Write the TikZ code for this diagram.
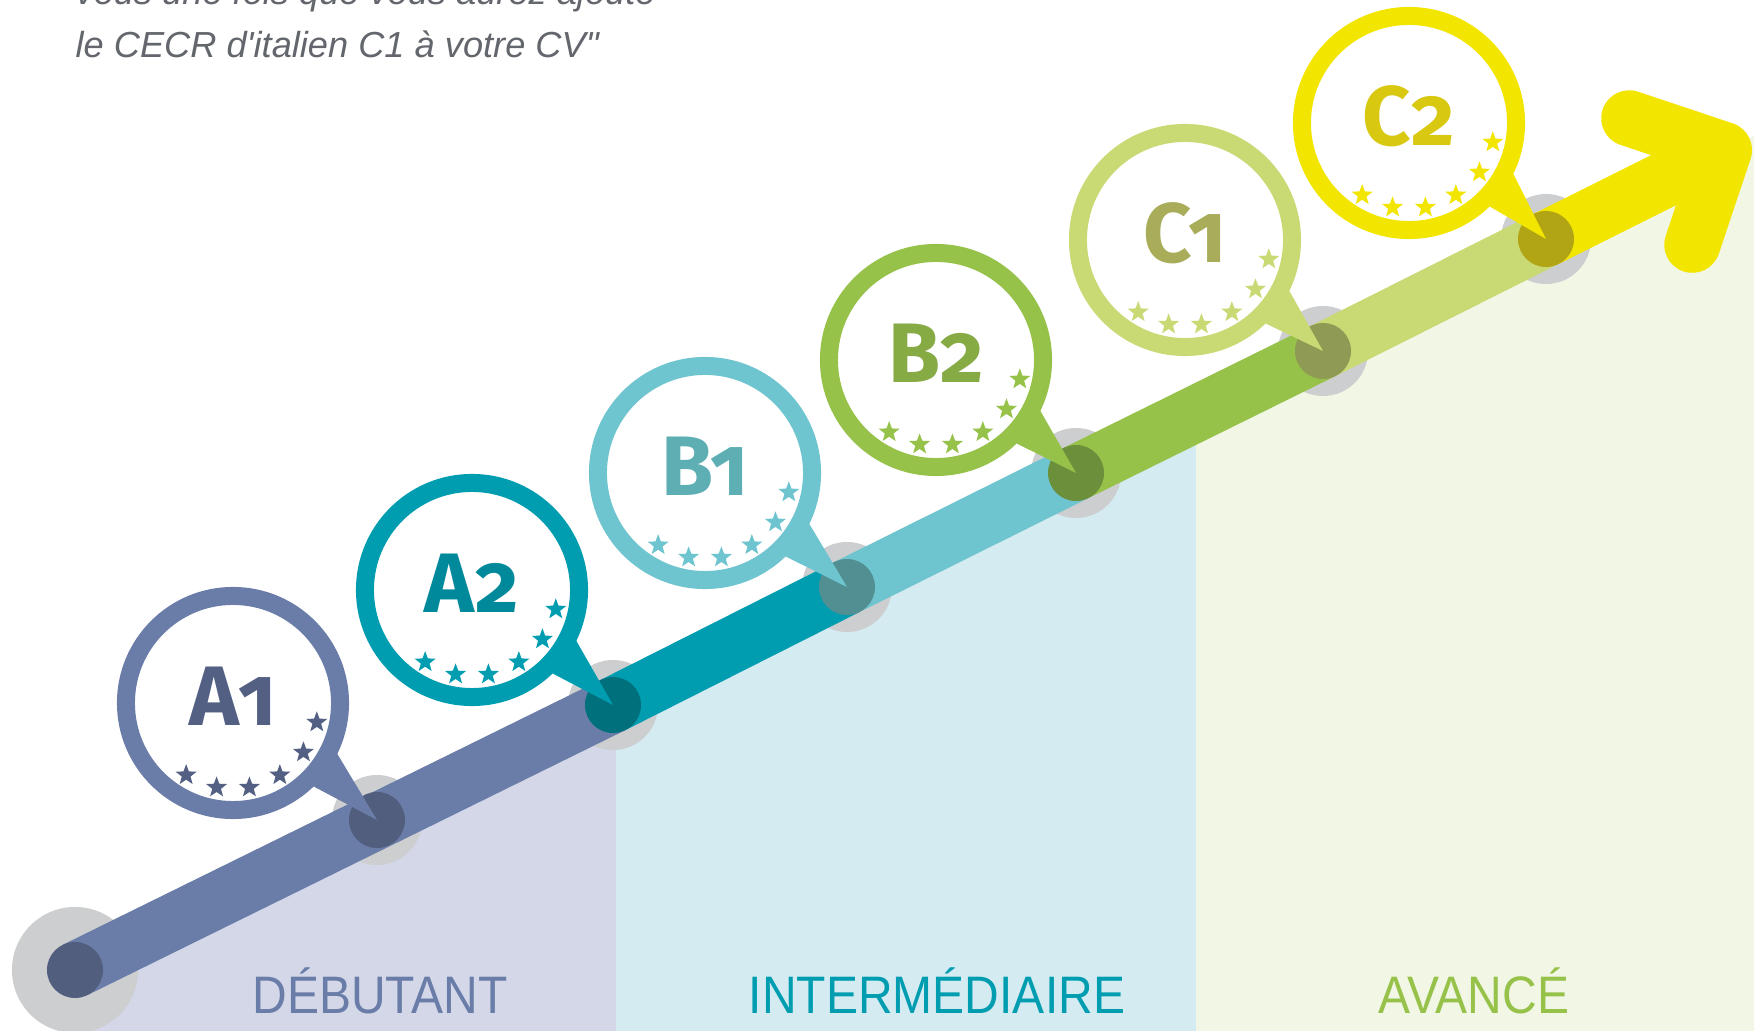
\documentclass[tikz,border=0pt]{standalone}
\usepackage{fontspec}
\usepackage{tikz}
\usetikzlibrary{shapes.geometric}
\newfontfamily\levelfont[Numbers=OldStyle]{Fira Sans}
\newfontfamily\stagefont[FakeStretch=0.91]{Liberation Sans}
\newfontfamily\quotefont{Liberation Sans}
\definecolor{halogray}{HTML}{CDCED0}
\definecolor{pa}{HTML}{D3D7E8}
\definecolor{pb}{HTML}{D5EBF2}
\definecolor{pc}{HTML}{F2F6E5}
\definecolor{quotegray}{HTML}{63666C}
\definecolor{c1}{HTML}{6A7DA8}
\definecolor{c2}{HTML}{009DB1}
\definecolor{c3}{HTML}{6FC5CF}
\definecolor{c4}{HTML}{97C24A}
\definecolor{c5}{HTML}{C9DA75}
\definecolor{c6}{HTML}{F2E500}
\definecolor{d1}{HTML}{525E7E}
\definecolor{d2}{HTML}{00707D}
\definecolor{d3}{HTML}{528F92}
\definecolor{d4}{HTML}{6B8F3A}
\definecolor{d5}{HTML}{8F9A54}
\definecolor{d6}{HTML}{B2A515}
\definecolor{t1}{HTML}{536083}
\definecolor{t2}{HTML}{00899B}
\definecolor{t3}{HTML}{5DAFB4}
\definecolor{t4}{HTML}{86AA44}
\definecolor{t5}{HTML}{A9AD5A}
\definecolor{t6}{HTML}{D8C810}

\begin{document}
\begin{tikzpicture}[x=0.01cm, y=0.01cm,
    halo/.style={circle, fill=halogray, minimum size=0.9cm, inner sep=0},
    knot/.style={circle, minimum size=0.56cm, inner sep=0},
    band/.style={line width=0.56cm},
    bubble/.style={circle, fill=white, line width=0.18cm, minimum size=2.14cm, inner sep=0},
    lvltext/.style={anchor=base, yshift=-0.22cm, font=\levelfont\bfseries\fontsize{24}{28}\selectfont},
    star5/.style={star, star points=5, star point ratio=2.4, minimum size=0.22cm, inner sep=0},
    stage/.style={anchor=base, font=\stagefont\fontsize{15}{17}\selectfont}]
        \useasboundingbox (0,0) rectangle (1754,-1031);
        \clip (0,0) rectangle (1754,-1031);

        % Panels
        \fill[pa] (75,-970) -- (616,-701) -- (616,-1031) -- (75,-1031) -- cycle;
        \fill[pb] (616,-701) -- (1196,-413) -- (1196,-1031) -- (616,-1031) -- cycle;
        \fill[pc] (1196,-413) -- (1754,-136) -- (1754,-1031) -- (1196,-1031) -- cycle;
        \node[stage, text=c1] (deb) at (380,-1013) {DÉBUTANT};
        \node[stage, text=c2] (int) at (937,-1013) {INTERMÉDIAIRE};
        \node[stage, text=c4] (ava) at (1474,-1013) {AVANCÉ};

        % Stations
        \node[halo, minimum size=1.26cm] (0) at (75,-970) {};
        \node[halo] (1) at (377,-820) {};
        \node[halo] (2) at (613,-705) {};
        \node[halo] (3) at (847,-587) {};
        \node[halo] (4) at (1076,-473) {};
        \node[halo] (5) at (1323,-351) {};
        \node[halo] (6) at (1546,-239) {};
        \coordinate (tip) at (1724,-150);

        % Path
        \draw[band, c1] (0.center) -- (2.center);
        \draw[band, c2] (2.center) -- (3.center);
        \draw[band, c3] (3.center) -- (4.center);
        \draw[band, c4] (4.center) -- (5.center);
        \draw[band, c5] (5.center) -- (6.center);
        \draw[band, c6] (6.center) -- (tip);
        \draw[band, c6, line cap=round, line join=round] ([shift={(161.5:100)}]tip) -- (tip) -- ([shift={(251.5:100)}]tip);

        % Knots
        \node[knot, fill=d1] (k0) at (0) {};
        \node[knot, fill=d1] (k1) at (1) {};
        \node[knot, fill=d2] (k2) at (2) {};
        \node[knot, fill=d3] (k3) at (3) {};
        \node[knot, fill=d4] (k4) at (4) {};
        \node[knot, fill=d5] (k5) at (5) {};
        \node[knot, fill=d6] (k6) at (6) {};

        % Bubbles
        \node[bubble, draw=c1] (a1) at (233,-703) {};
        \fill[c1] (a1.-26) -- (k1.center) -- (a1.-46) -- cycle;
        \node[lvltext, text=t1] at (a1) {A1};
        \foreach \a in {-123,-101,-79,-57,-35,-13}
            \node[star5, fill=t1] at ([shift={(\a:86)}]a1) {};

        \node[bubble, draw=c2] (a2) at (472,-590) {};
        \fill[c2] (a2.-26) -- (k2.center) -- (a2.-46) -- cycle;
        \node[lvltext, text=t2] at (a2) {A2};
        \foreach \a in {-123,-101,-79,-57,-35,-13}
            \node[star5, fill=c2] at ([shift={(\a:86)}]a2) {};

        \node[bubble, draw=c3] (b1) at (705,-473) {};
        \fill[c3] (b1.-26) -- (k3.center) -- (b1.-46) -- cycle;
        \node[lvltext, text=t3] at (b1) {B1};
        \foreach \a in {-123,-101,-79,-57,-35,-13}
            \node[star5, fill=c3] at ([shift={(\a:86)}]b1) {};

        \node[bubble, draw=c4] (b2) at (936,-360) {};
        \fill[c4] (b2.-26) -- (k4.center) -- (b2.-46) -- cycle;
        \node[lvltext, text=t4] at (b2) {B2};
        \foreach \a in {-123,-101,-79,-57,-35,-13}
            \node[star5, fill=c4] at ([shift={(\a:86)}]b2) {};

        \node[bubble, draw=c5] (c1) at (1185,-240) {};
        \fill[c5] (c1.-26) -- (k5.center) -- (c1.-46) -- cycle;
        \node[lvltext, text=t5] at (c1) {C1};
        \foreach \a in {-123,-101,-79,-57,-35,-13}
            \node[star5, fill=c5] at ([shift={(\a:86)}]c1) {};

        \node[bubble, draw=c6] (c2) at (1409,-123) {};
        \fill[c6] (c2.-26) -- (k6.center) -- (c2.-46) -- cycle;
        \node[lvltext, text=t6] at (c2) {C2};
        \foreach \a in {-123,-101,-79,-57,-35,-13}
            \node[star5, fill=c6] at ([shift={(\a:86)}]c2) {};

        % Quote
        \node[anchor=base west, inner sep=0, text=quotegray, font=\quotefont\itshape\fontsize{10.3}{12}\selectfont] (q1) at (75,-5) {vous une fois que vous aurez ajouté};
        \node[anchor=base west, inner sep=0, text=quotegray, font=\quotefont\itshape\fontsize{10.3}{12}\selectfont] (q2) at (75,-58) {le CECR d'italien C1 à votre CV"};
\end{tikzpicture}
\end{document}
